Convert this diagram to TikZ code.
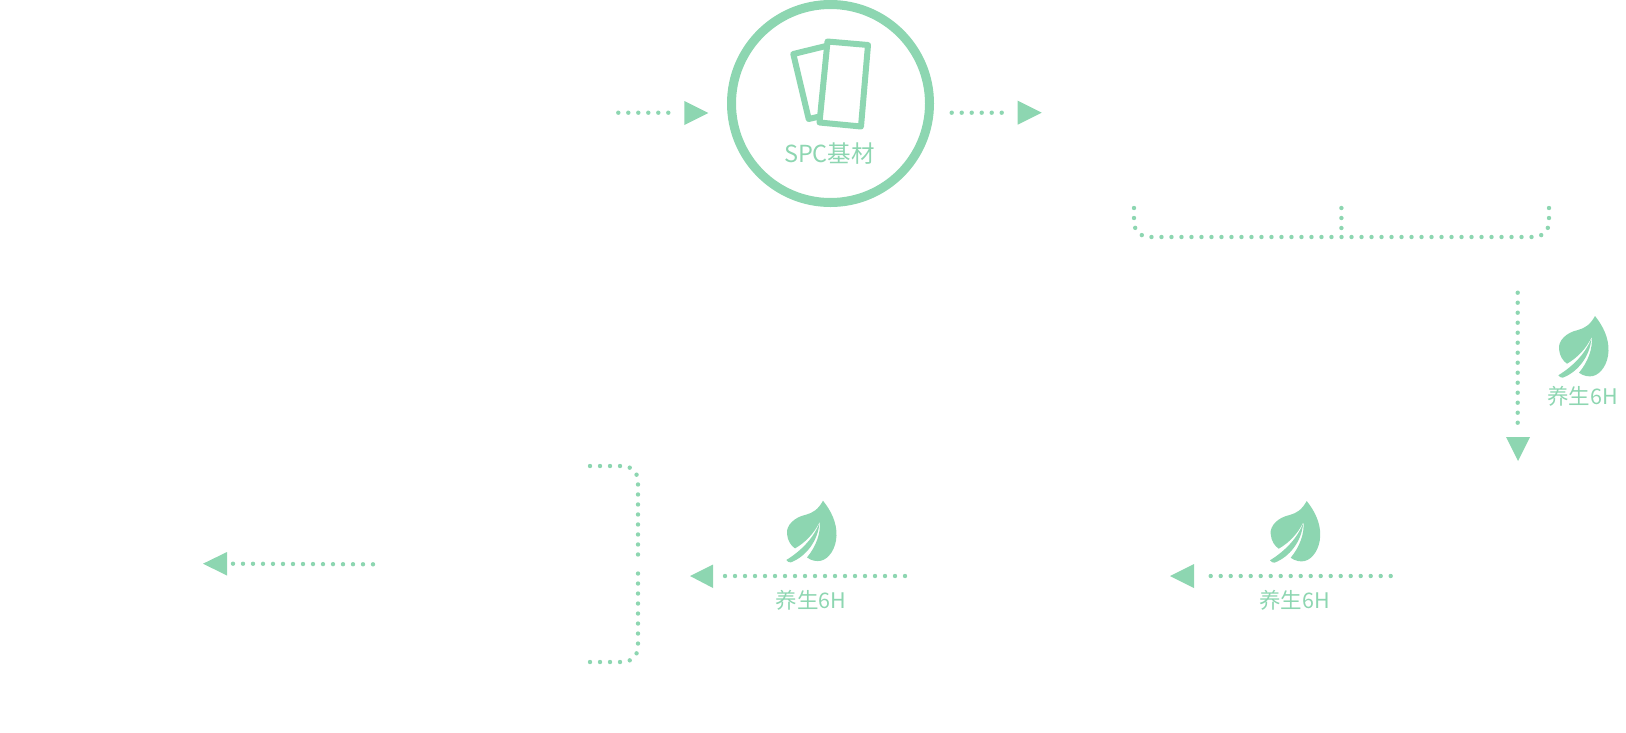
\documentclass[tikz,border=0pt]{standalone}
\usepackage{fontspec}
\setmainfont{Noto Sans CJK SC}
\definecolor{mint}{HTML}{8DD6B1}
\tikzset{
  x=1pt,y=-1pt,
  dotline/.style={draw=mint,line width=4.4pt,line cap=round,dash pattern=on 0pt off 10pt},
  bracketline/.style={dotline,rounded corners=15pt},
  head/.style={fill=mint},
  cardline/.style={draw=mint,line width=6pt,line join=round,line cap=round},
  greentext/.style={text=mint,font=\fontsize{21.5pt}{24pt}\selectfont,inner sep=0pt},
  leafmark/.pic={
    \fill[mint] (0,0) .. controls (-5,9) and (-10,12) .. (-17,14)
      .. controls (-29,16.5) and (-37,25) .. (-36,33)
      .. controls (-35.5,40) and (-32,45) .. (-28,47.7)
      .. controls (-18,42) and (-9,33) .. (-3.3,21)
      .. controls (-2,32) and (-7,46) .. (-16,56.7)
      .. controls (-12,60) and (-6,61) .. (-2,60)
      .. controls (6,58) and (13,48) .. (13.5,35)
      .. controls (14,22) and (8,10) .. (0,0) -- cycle;
    \fill[mint] (-3.6,22.5) .. controls (-9,36) and (-20,49) .. (-36.7,59.3)
      .. controls (-35.5,61) and (-34,61.7) .. (-32.3,61.7)
      .. controls (-17,56) and (-5,40) .. (-3.6,22.5) -- cycle;
  }
}
\begin{document}
\begin{tikzpicture}
\useasboundingbox (0,0) rectangle (1626,732);
% central circle
\node[circle,draw=mint,line width=9pt,minimum size=198pt,inner sep=0pt] (spc) at (830.5,103.5) {};
\draw[cardline] (826,46) -- (793.3,54) -- (808.7,119) -- (819.5,116.5);
\draw[cardline] (827.5,41.5) -- (868,45) -- (861,126.5) -- (819.5,122.5) -- cycle;
\node[greentext,font=\fontsize{23.5pt}{26pt}\selectfont] (spclabel) at (829.5,153.5) {SPC基材};
% end points of the connectors
\coordinate (a1) at (618.3,112.7); \coordinate (a2) at (678.3,112.7);
\coordinate (b1) at (951.7,112.7); \coordinate (b2) at (1011.7,112.7);
\coordinate (c1) at (1517.7,292.7); \coordinate (c2) at (1517.7,432.7);
\coordinate (d1) at (1390.7,576); \coordinate (d2) at (1200.7,576);
\coordinate (e1) at (905,576); \coordinate (e2) at (715,576);
\coordinate (f1) at (373,564.3); \coordinate (f2) at (233,563.7);
\draw[dotline] (a1) -- (a2);
\draw[dotline] (b1) -- (b2);
\draw[dotline] (c1) -- (c2);
\draw[dotline] (d1) -- (d2);
\draw[dotline] (e1) -- (e2);
\draw[dotline] (f1) -- (f2);
% arrowheads
\fill[head] (684.3,101) -- (708.3,113) -- (684.3,125) -- cycle;
\fill[head] (1017.7,100.7) -- (1041.7,112.7) -- (1017.7,124.7) -- cycle;
\fill[head] (1506,437) -- (1530,437) -- (1518,461) -- cycle;
\fill[head] (1194,564) -- (1170,576) -- (1194,588) -- cycle;
\fill[head] (713,564.5) -- (690,576) -- (713,588) -- cycle;
\fill[head] (227,552) -- (203,563.7) -- (227,575.5) -- cycle;
% upper bracket
\coordinate (bl) at (1134,208); \coordinate (bm) at (1341.4,208);
\coordinate (br) at (1549,208); \coordinate (bj) at (1341.4,237);
\draw[bracketline] (bl) |- (bj);
\draw[bracketline] (br) |- (bj);
\draw[dotline] (bm) -- ([yshift=1pt]bj);
% lower bracket
\coordinate (s1) at (590,466); \coordinate (s2) at (590,662); \coordinate (sc) at (638,564);
\draw[bracketline] (s1) -| (sc);
\draw[bracketline] (s2) -| (sc);
% leaves and labels
\pic at (1595,316) {leafmark};
\pic at (823,500.7) {leafmark};
\pic at (1306.7,501) {leafmark};
\node[greentext] (t1) at (1582.5,396) {养生6H};
\node[greentext] (t2) at (811,600) {养生6H};
\node[greentext] (t3) at (1294.7,600) {养生6H};
\end{tikzpicture}
\end{document}
